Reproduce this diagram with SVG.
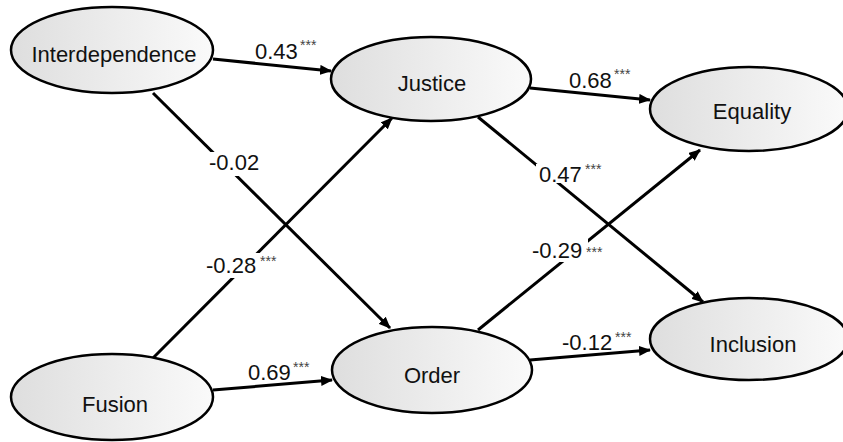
<svg xmlns="http://www.w3.org/2000/svg" width="843" height="442" viewBox="0 0 843 442">
<style>
.node ellipse{fill:url(#g);stroke:#000;stroke-width:2.5}
.node text{font-family:"Liberation Sans",Arial,sans-serif;font-size:22px;fill:#111;text-anchor:middle}
.conn line{stroke:#000;stroke-width:3;marker-end:url(#ah)}
.lbl{font-family:"Liberation Sans",Arial,sans-serif;font-size:22px;fill:#111}
.st{font-family:"Liberation Sans",Arial,sans-serif;font-size:14px;fill:#444}
.bg{fill:#fff}
</style>
<defs>
<linearGradient id="g" x1="0" y1="0" x2="1" y2="0">
<stop offset="0" stop-color="#dedede"/>
<stop offset="1" stop-color="#fafafa"/>
</linearGradient>
<marker id="ah" markerWidth="12" markerHeight="10" refX="11" refY="5" orient="auto" markerUnits="userSpaceOnUse">
<path d="M0,0 L12,5 L0,10 Z" fill="#000"/>
</marker>
</defs>
<rect width="843" height="442" fill="#fff"/>
<g id="connectors" class="conn">
<line x1="213" y1="59" x2="331" y2="71"/>
<line x1="530" y1="88" x2="650" y2="100"/>
<line x1="153" y1="93" x2="390" y2="328"/>
<line x1="153" y1="358" x2="392" y2="118"/>
<line x1="478" y1="117" x2="703" y2="302"/>
<line x1="478" y1="330" x2="700" y2="150"/>
<line x1="213" y1="390" x2="332" y2="380"/>
<line x1="530" y1="360" x2="650" y2="350"/>
</g>
<g id="labels">
<text class="lbl" x="255" y="59">0.43</text><text class="st" x="300" y="50">***</text>
<text class="lbl" x="569" y="88">0.68</text><text class="st" x="614" y="79">***</text>
<rect class="bg" x="208" y="152" width="56" height="24"/>
<text class="lbl" x="209" y="170">-0.02</text>
<rect class="bg" x="205" y="253" width="57" height="25"/>
<text class="lbl" x="206" y="273">-0.28</text><text class="st" x="260" y="266">***</text>
<rect class="bg" x="536" y="164" width="49" height="19"/>
<text class="lbl" x="539" y="182">0.47</text><text class="st" x="585" y="174">***</text>
<rect class="bg" x="531" y="238" width="57" height="24"/>
<text class="lbl" x="532" y="258">-0.29</text><text class="st" x="586" y="257">***</text>
<text class="lbl" x="248" y="380">0.69</text><text class="st" x="293" y="372">***</text>
<text class="lbl" x="562" y="350">-0.12</text><text class="st" x="615" y="342">***</text>
</g>
<g id="interdependence" class="node"><ellipse cx="112" cy="50" rx="101" ry="43"/><text x="114" y="62">Interdependence</text></g>
<g id="justice" class="node"><ellipse cx="431" cy="79" rx="100" ry="42"/><text x="432" y="91">Justice</text></g>
<g id="equality" class="node"><ellipse cx="749" cy="109" rx="99" ry="42"/><text x="752" y="119">Equality</text></g>
<g id="fusion" class="node"><ellipse cx="112" cy="397" rx="101" ry="43"/><text x="115" y="412">Fusion</text></g>
<g id="order" class="node"><ellipse cx="432" cy="370" rx="100" ry="43"/><text x="432" y="383">Order</text></g>
<g id="inclusion" class="node"><ellipse cx="749" cy="339" rx="99" ry="41"/><text x="753" y="352">Inclusion</text></g>
</svg>
